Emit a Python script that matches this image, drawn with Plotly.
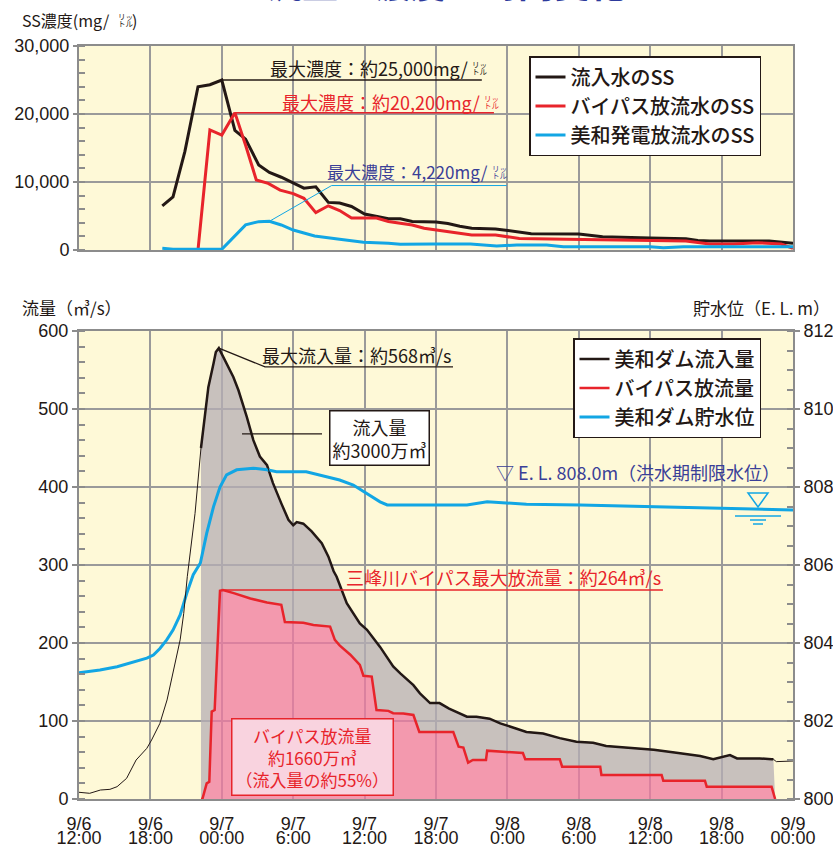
import plotly.graph_objects as go

W, H = 833, 846
JP = "Noto Sans CJK JP"
NUM = "Liberation Sans, Arial, sans-serif"

# ---------------- data (hours elapsed since 9/6 12:00) ----------------
tick_hours = [0, 6, 12, 18, 24, 30, 36, 42, 48, 54, 60]
tick_dates = ["9/6", "9/6", "9/7", "9/7", "9/7", "9/7", "9/8", "9/8", "9/8", "9/8", "9/9"]
tick_times = ["12:00", "18:00", "00:00", "6:00", "12:00", "18:00", "0:00", "6:00", "12:00",
              "18:00", "00:00"]

# SS concentration (mg/L)
ss_inflow_t = [7, 7.9, 8.9, 10, 11, 12, 13.1, 14, 15.1, 16, 17, 18, 18.9, 19.9, 20.95, 21.9,
               22.9, 24, 25, 26, 27, 28, 30, 31, 32, 33, 35, 36.5, 38, 42, 44, 48, 51, 52, 53,
               58, 59, 60]
ss_inflow = [6500, 7800, 14500, 24000, 24300, 25000, 17600, 16300, 12500, 11400, 10700, 9900,
             9100, 9300, 7000, 6900, 6400, 5300, 4900, 4600, 4600, 4200, 4100, 3900, 3500, 3200,
             3100, 2800, 2400, 2350, 1950, 1750, 1650, 1400, 1320, 1320, 1130, 980]

ss_bypass_t = [10, 11, 12, 13.1, 14, 14.9, 15.9, 16.9, 18, 18.9, 19.9, 20.95, 21.9, 22.9, 24,
               25, 26, 27, 28, 29, 31, 33, 35, 36, 37, 41, 45, 48, 51, 53, 55, 57, 59, 60]
ss_bypass = [0, 17650, 16900, 20200, 15400, 10300, 9800, 8800, 8300, 7600, 5500, 6500, 5800,
             4700, 4700, 4700, 4200, 3900, 3680, 3200, 2700, 2200, 2200, 1900, 1700, 1570, 1470,
             1470, 1320, 880, 880, 1080, 880, 250]

ss_power_t = [7, 7.9, 10, 12, 14, 15.1, 16, 17, 18, 19.8, 21.9, 23.9, 26, 27, 29.8, 32.9, 35.1,
              36.8, 39.3, 40.7, 43.8, 48, 49.1, 50.8, 60]
ss_power = [250, 100, 100, 100, 3700, 4170, 4220, 3680, 2940, 2060, 1570, 1130, 980, 830, 880,
            880, 590, 740, 740, 490, 490, 490, 340, 490, 490]

# Flow (m3/s)
inflow_t = [0, 0.9, 1.8, 2.6, 3.2, 4.0, 4.8, 5.7, 6.1, 6.8, 7.4, 7.9, 8.5, 8.8, 9.1, 9.75, 10.25,
            10.6, 10.87, 11.3, 11.5, 11.75, 12.4, 12.97, 13.4, 14.1, 14.65, 15.2, 15.8, 16.3, 17.0,
            17.6, 18.0, 18.3, 18.85, 19.55, 20.4, 20.95, 21.4, 21.65, 22.5, 23.6, 24.2, 25.3, 26.4,
            27.0, 28.1, 28.65, 29.5, 30.3, 31.1, 32.6, 33.4, 34.5, 35.4, 36.2, 37.6, 39.0, 40.4,
            41.8, 43.2, 44.3, 46.6, 48.3, 50.2, 52.2, 53.3, 54.7, 55.3, 57.2, 58.2, 58.35, 58.6,
            59.5, 60]
inflow_q = [8.6, 7.3, 11.5, 12.4, 15.8, 26.5, 50, 65, 75.6, 97, 127, 161, 204, 238, 285, 366, 450,
            494, 528, 558, 573, 578, 558, 541, 524, 490, 460, 439, 428, 405, 379, 358, 351, 355,
            353, 343, 328, 311, 292, 285, 251, 225, 217, 195, 170, 161, 146, 135.5, 123, 123, 116,
            105.5, 105.5, 103, 97, 92.7, 86, 84, 78, 73.5, 72, 68, 65, 63, 59.4, 55, 51, 56.4, 52,
            52, 51, 51, 47.9, 48, 48.7]
inflow_fill_start, inflow_fill_end = 10.25, 58.35

bypass_t = [10.25, 10.37, 10.73, 10.95, 11.15, 11.4, 11.85, 12.1, 13.0, 14.4, 15.8, 17.0, 17.3,
            18.0, 18.85, 19.7, 20.7, 21.1, 21.5, 21.9, 22.8, 23.3, 23.6, 23.9, 24.6, 25.0, 26.0,
            26.4, 27.25, 28.1, 28.6, 31.45, 31.9, 32.3, 32.7, 33.1, 34.2, 34.3, 37.3, 37.5, 40.4,
            40.6, 43.8, 43.9, 48.96, 49.1, 52.6, 52.75, 58.2, 58.5]
bypass_q = [0, 0, 20, 22, 112, 114, 267, 268, 264, 257, 252, 249, 227, 226.5, 226, 223, 222, 221,
            204, 197, 185, 176, 172, 158, 157, 114, 113, 110, 109.5, 107.7, 86, 86, 67, 66, 46.6,
            50, 50, 62, 59, 51, 51, 41.5, 41.5, 30.8, 30.8, 23.5, 23.5, 15.8, 15.8, 0]

# Reservoir level (E.L. m)
level_t = [0, 1.76, 3.2, 4.56, 5.7, 6.25, 6.8, 7.37, 7.9, 8.5, 9.05, 9.6, 10.2, 10.73, 11.3, 11.85,
           12.4, 13.25, 14.65, 15.8, 16.6, 19.1, 20.25, 21.9, 23.05, 24.2, 25.3, 25.9, 32.6, 34.3,
           35.9, 37.6, 42.1, 48.0, 53.9, 60]
level_m = [803.24, 803.31, 803.39, 803.52, 803.61, 803.69, 803.86, 804.08, 804.33, 804.72, 805.27,
           805.75, 806.05, 806.81, 807.49, 808.0, 808.31, 808.44, 808.48, 808.44, 808.39, 808.39,
           808.31, 808.18, 808.05, 807.84, 807.62, 807.54, 807.54, 807.62, 807.6, 807.56, 807.54,
           807.5, 807.45, 807.41]

# ---------------- styles ----------------
BLACK = "#231815"
RED = "#e8242b"
BLUE = "#12a6e4"
NAVY = "#3a3f98"
GRID = "#9a9a9a"
FRAME = "#8c8c8c"
BG = "#fef9d7"
PINK_FILL = "rgba(239,120,160,0.75)"
GRAY_FILL = "rgba(182,174,180,0.75)"

fill_idx = [i for i, t in enumerate(inflow_t) if inflow_fill_start <= t <= inflow_fill_end]
fill_t = [inflow_t[i] for i in fill_idx]
fill_q = [inflow_q[i] for i in fill_idx]

fig = go.Figure()

# top chart
fig.add_trace(go.Scatter(x=ss_inflow_t, y=ss_inflow, mode="lines", name="流入水のSS",
                         line=dict(color=BLACK, width=3), xaxis="x", yaxis="y", legend="legend"))
fig.add_trace(go.Scatter(x=ss_bypass_t, y=ss_bypass, mode="lines", name="バイパス放流水のSS",
                         line=dict(color=RED, width=3), xaxis="x", yaxis="y", legend="legend"))
fig.add_trace(go.Scatter(x=ss_power_t, y=ss_power, mode="lines", name="美和発電放流水のSS",
                         line=dict(color=BLUE, width=3), xaxis="x", yaxis="y", legend="legend"))

# bottom chart: fills
fig.add_trace(go.Scatter(x=bypass_t, y=bypass_q, mode="lines", fill="tozeroy",
                         fillcolor=PINK_FILL, line=dict(width=0), showlegend=False,
                         hoverinfo="skip", xaxis="x2", yaxis="y2"))
fig.add_trace(go.Scatter(x=fill_t, y=fill_q, mode="lines", fill="tonexty",
                         fillcolor=GRAY_FILL, line=dict(width=0), showlegend=False,
                         hoverinfo="skip", xaxis="x2", yaxis="y2"))
# lines
fig.add_trace(go.Scatter(x=bypass_t, y=bypass_q, mode="lines", name="バイパス放流量",
                         line=dict(color=RED, width=2.5), legendrank=2,
                         xaxis="x2", yaxis="y2", legend="legend2"))
fig.add_trace(go.Scatter(x=fill_t, y=fill_q, mode="lines", name="美和ダム流入量",
                         line=dict(color=BLACK, width=2.5), legendrank=1,
                         xaxis="x2", yaxis="y2", legend="legend2"))
# thin full-length inflow line (on overlay x-axis that carries the 2nd tick-label row)
fig.add_trace(go.Scatter(x=inflow_t, y=inflow_q, mode="lines", line=dict(color=BLACK, width=1),
                         showlegend=False, xaxis="x3", yaxis="y2"))
fig.add_trace(go.Scatter(x=level_t, y=level_m, mode="lines", name="美和ダム貯水位",
                         line=dict(color=BLUE, width=3), legendrank=3,
                         xaxis="x2", yaxis="y3", legend="legend2"))

annotations = []
shapes = []


def P(x, y):
    return x / W, 1 - y / H


def note(text, x, y, size=18, color=BLACK, xanchor="center", yanchor="middle", family=JP, **kw):
    xp, yp = P(x, y)
    a = dict(text=text, x=xp, y=yp, xref="paper", yref="paper", xanchor=xanchor,
             yanchor=yanchor, showarrow=False, font=dict(family=family, size=size, color=color))
    a.update(kw)
    annotations.append(a)


def liter(x, y, color):
    note("リッ", x, y - 3.8, size=7.5, color=color, xanchor="left", borderpad=0)
    note("トル", x, y + 3.8, size=7.5, color=color, xanchor="left", borderpad=0)


def seg(xs, ys, xref, yref, color, width):
    path = "M " + " L ".join(f"{a},{b}" for a, b in zip(xs, ys))
    shapes.append(dict(type="path", path=path, xref=xref, yref=yref,
                       line=dict(color=color, width=width)))


def pseg(pts, color, width, close=False):
    path = "M " + " L ".join(f"{x / W},{1 - y / H}" for x, y in pts) + (" Z" if close else "")
    shapes.append(dict(type="path", path=path, xref="paper", yref="paper",
                       line=dict(color=color, width=width)))


# title (mostly cropped off at the top)
note("<b>流量と濃度の時間変化</b>", 446, 9.5, size=36, color="#2d3a9c", yanchor="bottom",
     borderpad=0)

# axis titles
note("SS濃度(mg/", 20, 20, size=16, xanchor="left")
liter(117, 20, BLACK)
note(")", 130, 20, size=16, xanchor="left")
note("流量（㎥/s）", 20, 307, size=17, xanchor="left")
note("貯水位（E. L. m）", 832, 307, size=17, xanchor="right")

# top chart labels
note("最大濃度：約25,000mg/", 470, 68, color=BLACK, xanchor="right")
liter(471, 68, BLACK)
seg([12, 33.85], [25000, 25000], "x", "y", BLACK, 1.5)

note("最大濃度：約20,200mg/", 482, 102, color=RED, xanchor="right")
liter(483, 102, RED)
seg([13.1, 34.87], [20200, 20200], "x", "y", RED, 1.5)

note("最大濃度：4,220mg/", 490, 172, size=17, color=NAVY, xanchor="right")
liter(491, 172, NAVY)
seg([16, 21.23, 35.94], [4220, 9480, 9480], "x", "y", BLUE, 1)

# bottom chart labels
note("最大流入量：約568㎥/s", 453, 355, xanchor="right")
seg([11.75, 15.63, 31.43], [578, 554, 554], "x2", "y2", BLACK, 1.2)

note("流入量<br>約3000万㎥", 379, 438, bgcolor="white", bordercolor=BLACK,
     borderwidth=1.5, borderpad=2)
seg([13.7, 20.42], [468, 468], "x2", "y2", BLACK, 1.2)

note("▽ E. L. 808.0m（洪水期制限水位）", 782, 471.5, color=NAVY, xanchor="right")
pseg([(748, 493), (768, 493), (758, 507)], BLUE, 1.5, close=True)
pseg([(735, 516), (781, 516)], BLUE, 1.5)
pseg([(750, 520), (766, 520)], BLUE, 1.5)
pseg([(753, 524), (763, 524)], BLUE, 1.5)

note("三峰川バイパス最大放流量：約264㎥/s", 663, 577, color=RED, xanchor="right")
seg([12.1, 49.07], [268, 268], "x2", "y2", RED, 1.5)

note("バイパス放流量<br>約1660万㎥<br>（流入量の約55%）", 312.5, 757, size=17, color=RED,
     bgcolor="#f9d3df", bordercolor=RED, borderwidth=1.5, borderpad=3)

xdom = [79 / W, 793 / W]
axis_common = dict(showline=True, linecolor=FRAME, linewidth=2, mirror=True, zeroline=False,
                   automargin=False)
legend_font = dict(family=JP, size=20, color=BLACK, weight=500)
tickfont = dict(family=NUM, size=18, color=BLACK)

fig.update_layout(
    width=W, height=H, autosize=False,
    margin=dict(l=0, r=0, t=0, b=0),
    paper_bgcolor="white", plot_bgcolor=BG,
    showlegend=True,
    xaxis=dict(domain=xdom, anchor="y", range=[0, 60], tickvals=tick_hours,
               showticklabels=False, ticks="", showgrid=True, gridcolor=GRID, gridwidth=1.5,
               **axis_common),
    yaxis=dict(domain=[1 - 250 / H, 1 - 46 / H], anchor="x", range=[0, 30000],
               tickvals=[0, 10000, 20000, 30000], ticktext=["0", "10,000", "20,000", "30,000"],
               ticks="outside", ticklen=4, tickcolor=FRAME, tickwidth=1.5, tickfont=tickfont,
               minor=dict(dtick=2000, ticks="inside", ticklen=6, tickcolor=FRAME, tickwidth=1.5,
                          showgrid=False),
               showgrid=True, gridcolor=GRID, gridwidth=1.5, **axis_common),
    xaxis2=dict(domain=xdom, anchor="y2", range=[0, 60], tickvals=tick_hours,
                ticktext=tick_dates, ticks="", ticklabelstandoff=7, tickfont=tickfont,
                showgrid=True, gridcolor=GRID, gridwidth=1.5, **axis_common),
    xaxis3=dict(overlaying="x2", anchor="y2", side="bottom", range=[0, 60],
                tickvals=tick_hours, ticktext=tick_times, ticks="", ticklabelstandoff=26,
                tickfont=tickfont, showgrid=False, showline=False, zeroline=False,
                automargin=False),
    yaxis2=dict(domain=[1 - 799 / H, 1 - 331 / H], anchor="x2", range=[0, 600],
                tickvals=[0, 100, 200, 300, 400, 500, 600],
                ticks="outside", ticklen=5, tickcolor=FRAME, tickwidth=1.5, tickfont=tickfont,
                minor=dict(dtick=20, ticks="inside", ticklen=6, tickcolor=FRAME, tickwidth=1.5,
                           showgrid=False),
                showgrid=True, gridcolor=GRID, gridwidth=1.5, **axis_common),
    yaxis3=dict(overlaying="y2", anchor="x2", side="right", range=[800, 812],
                tickvals=[800, 802, 804, 806, 808, 810, 812],
                ticks="outside", ticklen=5, tickcolor=FRAME, tickwidth=1.5, tickfont=tickfont,
                minor=dict(dtick=0.5, ticks="inside", ticklen=6, tickcolor=FRAME, tickwidth=1.5,
                           showgrid=False),
                showgrid=False, showline=True, linecolor=FRAME, linewidth=2, zeroline=False,
                automargin=False),
    legend=dict(x=529 / W, y=1 - 56 / H, xanchor="left", yanchor="top", bgcolor="white",
                bordercolor=BLACK, borderwidth=1.5, font=legend_font, traceorder="normal"),
    legend2=dict(x=573 / W, y=1 - 338 / H, xanchor="left", yanchor="top", bgcolor="white",
                 bordercolor=BLACK, borderwidth=1.5, font=legend_font, traceorder="normal"),
    annotations=annotations,
    shapes=shapes,
)

fig.write_html("out.html", config={"displayModeBar": False},
               post_script="document.body.style.margin='0';document.body.style.overflow='hidden';")
